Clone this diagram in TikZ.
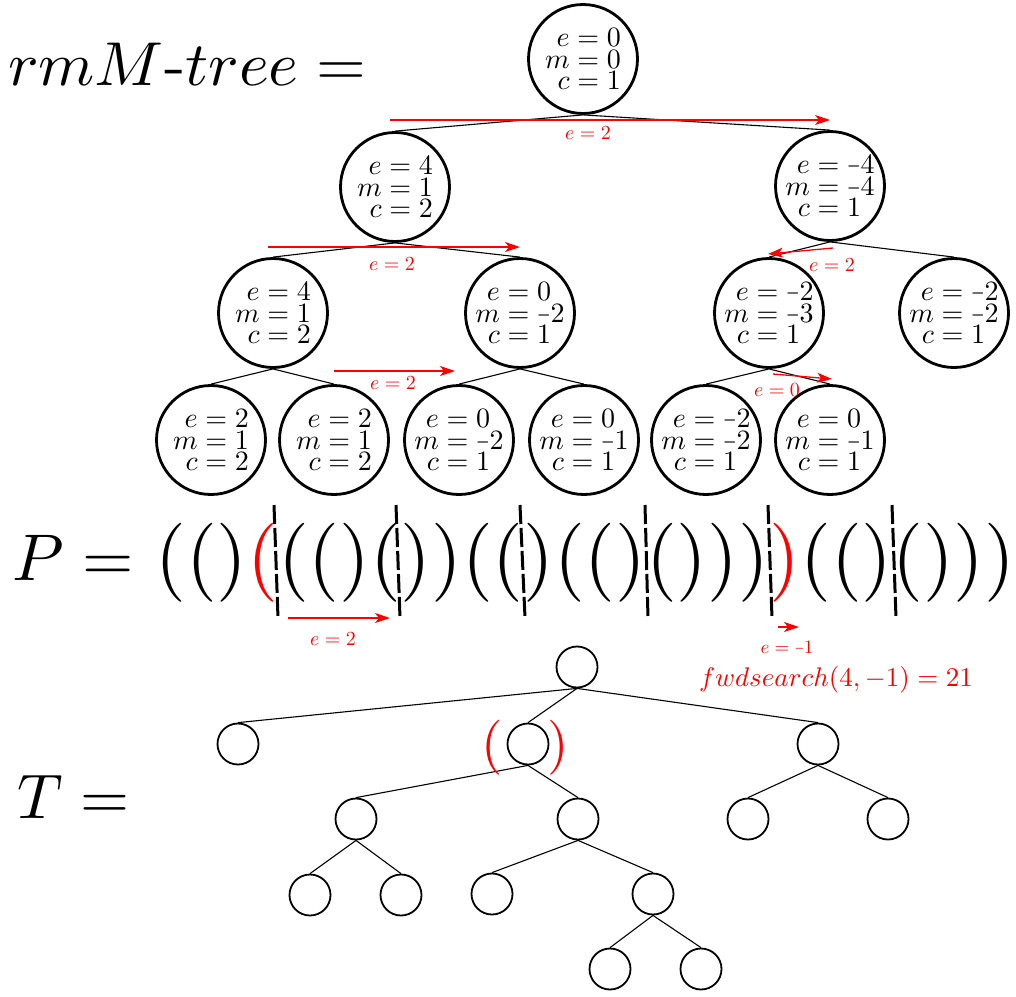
\documentclass[tikz,border=0pt]{standalone}
\usepackage{graphicx}
\usetikzlibrary{arrows.meta}
\newsavebox\mbx
\newcommand\mn{\scalebox{0.62}[1]{$-$}}
\newcommand\rl[2]{\sbox\mbx{$m$}\makebox[\wd\mbx][r]{$#1$}$\mathord{}=#2$}
\newcommand\rmtext[3]{\scalebox{2.8}{\vbox{\baselineskip=7.6pt\lineskiplimit=-100pt
  \hbox{\rl{e}{#1}}\hbox{\rl{m}{#2}}\hbox{\rl{c}{#3}}}}}
\begin{document}
\begin{tikzpicture}[x=1pt,y=-1pt,
  rm/.style={circle,draw,line width=2.8pt,minimum size=109pt,inner sep=0pt},
  tn/.style={circle,draw,line width=1.8pt,minimum size=41pt,inner sep=0pt},
  edge/.style={line width=1.1pt},
  redarr/.style={red,line width=1.3pt,-{Stealth[length=15pt,width=10pt,inset=4pt]}},
  redlbl/.style={red,inner sep=0pt},
  sep/.style={line width=3pt,dash pattern=on 19pt off 4pt},
  biglbl/.style={anchor=base west,inner sep=0pt}]
\useasboundingbox (0,0) rectangle (1016,996);

% labels
\node[biglbl] (lrmm) at (8,85) {\scalebox{6.4}[6.2]{$rmM\mbox{-}tree=$}};
\node[biglbl] (lp) at (12,580) {\scalebox{6.6}{$P=$}};
\node[biglbl] (lt) at (17,818) {\scalebox{6.3}{$T=$}};

% rmM-tree
\node[rm] (r0) at (583,59) {\rmtext{0}{0}{1}};
\node[rm] (a1) at (395,187) {\rmtext{4}{1}{2}};
\node[rm] (a2) at (830,186) {\rmtext{\mn4}{\mn4}{1}};
\node[rm] (b1) at (273,313) {\rmtext{4}{1}{2}};
\node[rm] (b2) at (520,313) {\rmtext{0}{\mn2}{1}};
\node[rm] (b3) at (769,313) {\rmtext{\mn2}{\mn3}{1}};
\node[rm] (b4) at (954,313) {\rmtext{\mn2}{\mn2}{1}};
\node[rm] (c1) at (211,440) {\rmtext{2}{1}{2}};
\node[rm] (c2) at (334,440) {\rmtext{2}{1}{2}};
\node[rm] (c3) at (459,440) {\rmtext{0}{\mn2}{1}};
\node[rm] (c4) at (584,440) {\rmtext{0}{\mn1}{1}};
\node[rm] (c5) at (706,440) {\rmtext{\mn2}{\mn2}{1}};
\node[rm] (c6) at (830,440) {\rmtext{0}{\mn1}{1}};
\foreach \p/\c in {r0/a1,r0/a2,a1/b1,a1/b2,a2/b3,a2/b4,b1/c1,b1/c2,b2/c3,b2/c4,b3/c5,b3/c6}
  \draw[edge] (\p.south) -- (\c.north);

% red arrows
\coordinate (A1s) at (390,120); \coordinate (A1e) at (830,120);
\coordinate (A2s) at (268,247); \coordinate (A2e) at (520,247);
\coordinate (A3s) at (334,371); \coordinate (A3e) at (455,371);
\coordinate (A4s) at (833,248); \coordinate (A4e) at (768,254);
\coordinate (A5s) at (773,374); \coordinate (A5e) at (832,379);
\coordinate (A6s) at (288,618); \coordinate (A6e) at (390,618);
\coordinate (A7s) at (778,627); \coordinate (A7e) at (799,627);
\draw[redarr] (A1s) -- (A1e);
\draw[redarr] (A2s) -- (A2e);
\draw[redarr] (A3s) -- (A3e);
\draw[redarr] (A4s) -- (A4e);
\draw[redarr] (A5s) -- (A5e);
\draw[redarr] (A6s) -- (A6e);
\draw[redarr] (A7s) -- (A7e);
\node[redlbl] (L1) at (588,133) {\scalebox{2}{$e=2$}};
\node[redlbl] (L2) at (392,264) {\scalebox{2}{$e=2$}};
\node[redlbl] (L3) at (393,383) {\scalebox{2}{$e=2$}};
\node[redlbl] (L4) at (832,265) {\scalebox{2}{$e=2$}};
\node[redlbl] (L5) at (777,390) {\scalebox{2}{$e=0$}};
\node[redlbl] (L6) at (333,639) {\scalebox{2}{$e=2$}};
\node[redlbl] (L7) at (787,648) {\scalebox{1.9}{$e=\mn1$}};
\node[redlbl] (fw) at (836,680) {\scalebox{2.7}{$fwdsearch(4,-1)=21$}};

% P string
\node[anchor=base,inner sep=0pt] (pstr) at (585.5,582)
  {\scalebox{7.9}{$(()\textcolor{red}{(}(()())(()(()()))\textcolor{red}{)}(()()))$}};
\draw[sep] (274,505) -- (278,618);
\draw[sep] (396,505) -- (400,618);
\draw[sep] (520,505) -- (525,618);
\draw[sep] (645,505) -- (648,618);
\draw[sep] (768,505) -- (772,618);
\draw[sep] (892,505) -- (896,618);

% T tree
\node[tn] (t0) at (577,667) {};
\node[tn] (t1) at (238,744) {};
\node[tn] (t2) at (528,744) {};
\node[tn] (t3) at (818,744) {};
\node[tn] (t4) at (356,819) {};
\node[tn] (t5) at (578,819) {};
\node[tn] (t6) at (748,819) {};
\node[tn] (t7) at (888,819) {};
\node[tn] (t8) at (310,895) {};
\node[tn] (t9) at (401,895) {};
\node[tn] (t10) at (492,894) {};
\node[tn] (t11) at (653,894) {};
\node[tn] (t12) at (610,969) {};
\node[tn] (t13) at (701,969) {};
\foreach \p/\c in {t0/t1,t0/t2,t0/t3,t2/t4,t2/t5,t3/t6,t3/t7,t4/t8,t4/t9,t5/t10,t5/t11,t11/t12,t11/t13}
  \draw[edge] (\p.south) -- (\c.north);
\node[anchor=base,inner sep=0pt,red] (tpl) at (492,761) {\scalebox{5.5}{$($}};
\node[anchor=base,inner sep=0pt,red] (tpr) at (558,761) {\scalebox{5.5}{$)$}};
\end{tikzpicture}
\end{document}
